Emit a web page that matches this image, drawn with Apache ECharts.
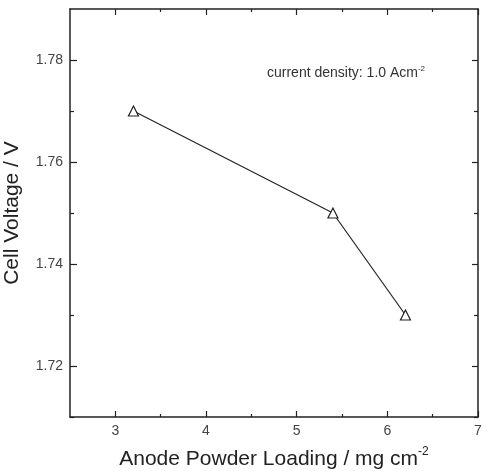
<!DOCTYPE html>
<html>
<head>
<meta charset="utf-8">
<script src="https://cdn.jsdelivr.net/npm/echarts@6/dist/echarts.min.js"></script>
<style>
    html, body { margin: 0; padding: 0; background: #fff; }
    #chart { width: 490px; height: 471px; }
</style>
</head>
<body>
<div id="chart"></div>
<script>
// data
const loading = [3.2, 5.4, 6.2];
const voltage = [1.77, 1.75, 1.73];

const xMajor = [3, 4, 5, 6, 7];
const xMinor = [3.5, 4.5, 5.5, 6.5];
const yMajor = [1.72, 1.74, 1.76, 1.78];
const yMinor = [1.71, 1.73, 1.75, 1.77];

(function (){
    const myChart = echarts.init(document.getElementById("chart"))
    const font = "Liberation Sans, Arial, sans-serif"
    const ink = "#222"

    function tickAxis(pos, min, max, values, len, showLine){
        return {
            type: 'value', position: pos, min: min, max: max,
            axisLine: { show: showLine, onZero: false, lineStyle: { color: ink, width: 1.5 } },
            axisTick: { show: true, inside: true, length: len, customValues: values, lineStyle: { color: ink, width: 1.2 } },
            axisLabel: { show: false },
            splitLine: { show: false }
        }
    }

    const pts = loading.map(function (x, i){ return [x, voltage[i]] })

    const option = {
        animation: false,
        grid: { left: 70, right: 12, top: 9, bottom: 54, outerBoundsMode: 'none', containLabel: false },
        xAxis: [
            Object.assign(tickAxis('bottom', 2.5, 7, xMajor, 6, true), {
                axisLabel: { show: true, customValues: xMajor, margin: 7, fontSize: 14, color: '#444', fontFamily: font },
                name: 'Anode Powder Loading / mg cm{sup|-2}',
                nameLocation: 'middle', nameGap: 29,
                nameTextStyle: {
                    fontSize: 21, color: ink, fontFamily: font,
                    rich: { sup: { fontSize: 12, color: ink, fontFamily: font, verticalAlign: 'top', padding: [0, 0, 14, 0] } }
                }
            }),
            tickAxis('bottom', 2.5, 7, xMinor, 3, false),
            tickAxis('top', 2.5, 7, xMajor, 6, true),
            tickAxis('top', 2.5, 7, xMinor, 3, false)
        ],
        yAxis: [
            Object.assign(tickAxis('left', 1.71, 1.79, yMajor, 7, true), {
                axisLabel: { show: true, customValues: yMajor, margin: 7, fontSize: 14, color: '#444', fontFamily: font,
                    formatter: function (v){ return v.toFixed(2) } },
                name: 'Cell Voltage / V',
                nameLocation: 'middle', nameGap: 47,
                nameTextStyle: { fontSize: 21, color: ink, fontFamily: font }
            }),
            tickAxis('left', 1.71, 1.79, yMinor, 4, false),
            tickAxis('right', 1.71, 1.79, yMajor, 6, true),
            tickAxis('right', 1.71, 1.79, yMinor, 4, false)
        ],
        graphic: [
            {
                type: 'text', left: 267, top: 65,
                style: {
                    text: 'current density: 1.0 Acm{sup|-2}',
                    font: '14px ' + font, fill: '#333',
                    rich: { sup: { fontSize: 8, fill: '#333', verticalAlign: 'top', padding: [0, 0, 8, 0] } }
                }
            }
        ],
        series: [
            {
                type: 'line',
                data: pts,
                symbol: 'triangle',
                symbolSize: 10,
                lineStyle: { color: ink, width: 1.2 },
                itemStyle: { color: '#fff', borderColor: ink, borderWidth: 1.2 }
            }
        ]
    }

    myChart.setOption(option)

    window.addEventListener("resize", function () {
        myChart.resize()
    })
})();
</script>
</body>
</html>
